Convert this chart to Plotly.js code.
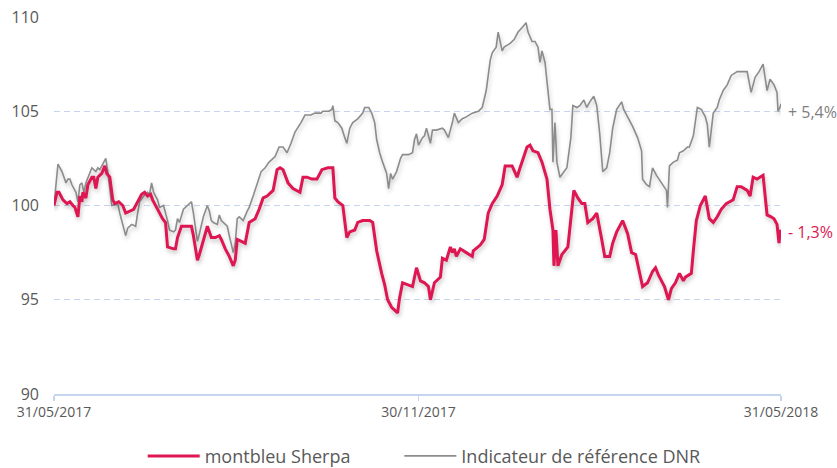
<!DOCTYPE html>
<html>
<head>
<meta charset="utf-8">
<script src="https://cdn.plot.ly/plotly-3.0.1.min.js"></script>
<style>
  html, body { margin: 0; padding: 0; background: #ffffff; }
  #chart { width: 837px; height: 468px; }
</style>
</head>
<body>
<div id="chart"></div>
<script>
// Days since 31/05/2017 and index values (base 100)
const tickDays = [0, 183, 365];
const tickLabels = ["31/05/2017", "30/11/2017", "31/05/2018"];
const seriesNames = ["montbleu Sherpa", "Indicateur de référence DNR"];

const dnrDays = [
  0,2,4,6,7,8,9,11,12,13,
  14,15,16,17,19,21,22,23,25,26,
  27,29,32,33,36,37,39,41,42,43,
  45,47,48,49,50,52,53,55,57,58,
  60,61,62,63,65,66,67,69,70,72,
  73,75,77,78,79,80,82,83,84,87,
  88,90,91,92,93,95,97,98,100,102,
  104,106,108,111,113,115,117,119,121,124,
  126,129,131,134,135,138,139.5,140,141,142.5,
  144.5,146,147,148.5,150,152.5,155,156,158,159.5,
  161,162,163.5,165,167,168,169,170,172,174,
  175,178,180,181,182,183,185,186,187,189,
  190,192,195,196,198,200,201,203,205,207,
  210,213,215,217,219,220,222,223,224,225,
  226,229,231,233,235.5,237,238,240,241.5,243,
  244,245,246.5,248,249,250,250.5,251.5,252.5,254,
  255.5,257.5,259.5,260.5,262.5,264,266,267.5,269,271,
  272.5,274,275.5,277.5,279,280.5,282.5,285,286,288,
  290.5,293,295,295.5,297.5,299,300.5,302.5,305,307.5,
  308,309,311,313,314,316,318,319,321,323,
  325,327,328,329,331,333,334,336,338,340,
  343,346,348,350,352,354,356,358,359.5,361.5,
  363,363.5,364.5,365
];
const dnrValues = [
  100.0,102.2,101.8,101.2,101.4,101.4,101.1,100.7,100.2,101.1,
  101.2,100.7,101.2,101.5,102.0,101.8,102.0,101.9,102.3,102.5,
  101.8,100.0,100.1,99.6,98.4,98.8,99.0,98.9,99.6,100.2,
  100.5,100.7,100.6,101.2,100.7,100.3,99.9,100.0,99.2,98.7,
  98.6,98.7,99.3,99.1,99.8,99.9,100.0,100.2,99.6,98.1,
  98.5,99.4,100.0,99.7,99.2,99.1,99.0,99.5,99.2,98.9,
  98.4,97.5,98.0,99.3,99.4,99.2,99.7,99.9,100.5,101.2,
  101.8,102.0,102.3,102.6,103.1,103.1,102.8,103.3,103.9,104.4,
  104.8,104.8,104.9,104.9,105.0,105.0,105.1,105.3,104.5,104.4,
  104.1,103.6,103.3,104.1,104.4,104.6,104.9,105.2,105.2,104.9,
  104.4,103.5,102.8,102.3,101.7,100.9,101.7,101.4,101.8,102.5,
  102.7,102.7,102.8,103.5,103.8,103.2,103.6,103.7,104.1,103.3,
  104.0,104.0,104.1,104.0,103.6,104.4,104.9,104.4,104.6,104.7,
  104.9,105.0,105.2,106.1,107.7,108.1,108.4,109.2,108.6,108.2,
  108.4,108.6,108.8,109.2,109.5,109.7,109.2,108.7,108.7,108.4,
  107.6,108.2,107.6,106.1,105.1,105.1,102.3,104.4,102.3,101.5,
  101.7,102.0,103.6,105.3,105.2,105.3,105.6,105.2,105.5,105.8,
  105.3,103.8,101.8,102.0,102.8,104.1,105.1,105.5,105.1,104.7,
  104.2,103.6,102.9,101.4,101.1,101.0,102.0,101.6,101.2,100.8,
  99.9,102.1,102.3,102.4,102.8,102.9,103.1,103.1,103.7,105.2,
  105.1,104.7,104.3,103.1,104.9,105.2,105.6,106.1,106.4,106.9,
  107.1,107.1,107.1,106.0,106.8,107.1,107.5,106.1,106.7,106.4,
  106.0,105.0,105.2,105.4
];

const sherpaDays = [
  0,1.5,2.5,4.5,6.5,8,9.5,10.5,12,13,
  14,14.5,16,17,19,20,21,22,24,25.5,
  26.5,28,29.5,30.5,32.5,34.5,36,38,40,41.5,
  44,45.5,47,48.5,49.5,51.5,53,54.5,56,57,
  60,61,62,64,67,69,70,72,73,75,
  77,79,81,83,84,86,88,90,91,92,
  96,98,101,103,105,107,110,112,113.5,115,
  117.5,120,123.5,125,127,129.5,132,134.5,137.5,140,
  141,142.5,145,147,148.5,151,152.5,155,158.5,160,
  162,164.5,166,167.5,169.5,172.5,173.5,175,177.5,180,
  182,184,186,188,189,191,194,195,197,199,
  200,201,202,204,207,210,210.5,214,216,218,
  220,222.5,225,226.5,230,232.5,234,237.5,239,240.5,
  243,245,247.5,249,250.5,251,252,253,255,256.5,
  258,260,261,263,265,266.5,268,270.5,272.5,275,
  276.5,279,280.5,282.5,285.5,288,290,292,293.5,295.5,
  298,300.5,302,303.5,306.5,308.5,310,312,314,316,
  317,320,321,322.5,324.5,327,329,331,333,335,
  337.5,341,343,345,348,349.5,351,353,356,358,
  360,361.5,363,364,364.5,365
];
const sherpaValues = [
  100.0,100.7,100.7,100.3,100.1,100.2,100.0,99.9,99.4,100.5,
  100.2,100.7,100.4,101.1,101.5,101.5,100.9,101.5,101.7,102.1,
  101.7,101.5,100.3,100.1,100.2,100.0,99.6,99.7,99.8,100.1,
  100.6,100.7,100.5,100.6,100.3,99.9,99.6,99.3,99.1,97.8,
  97.7,97.7,98.3,98.9,98.9,98.9,98.4,97.1,97.4,98.2,
  98.9,98.3,98.3,98.4,98.2,97.7,97.3,96.8,97.1,98.2,
  98.0,99.1,99.3,99.8,100.4,100.5,100.8,101.9,102.0,101.9,
  101.2,100.9,100.7,101.5,101.5,101.4,101.4,101.9,102.0,102.0,
  100.4,100.2,100.0,98.3,98.6,98.7,99.1,99.2,99.2,99.1,
  97.6,96.4,95.8,95.0,94.6,94.3,95.1,95.9,95.8,95.7,
  96.7,96.0,95.9,95.7,95.0,95.9,96.2,97.2,97.1,97.8,
  97.5,97.7,97.3,97.7,97.5,97.3,97.6,97.9,98.2,99.6,
  100.1,100.5,101.1,102.1,102.1,101.5,102.0,103.1,103.2,102.9,
  102.8,102.3,101.4,99.8,98.7,96.8,98.7,96.8,97.4,97.6,
  97.8,99.8,100.8,100.4,100.1,100.1,99.1,99.3,99.6,98.2,
  97.3,97.3,98.0,98.6,99.2,98.5,97.5,97.4,96.7,95.7,
  95.9,96.5,96.7,96.3,95.7,95.0,95.6,95.9,96.4,96.0,
  96.2,96.4,97.6,99.2,100.0,100.5,99.3,99.1,99.4,99.8,
  100.1,100.3,101.0,101.0,100.8,100.5,101.5,101.4,101.6,99.5,
  99.4,99.3,99.0,98.0,98.6,98.7
];

const RED = '#de1651';
const GREY = '#8c8c8c';
const TXT = '#595959';
const FONT = '"Open Sans", "Noto Sans", sans-serif';

function perfLabel(values) {
  const p = values[values.length - 1] - 100;
  return (p >= 0 ? '+ ' : '- ') + Math.abs(p).toFixed(1).replace('.', ',') + '%';
}

const traces = [
  {
    x: dnrDays, y: dnrValues, name: seriesNames[1], type: 'scatter', mode: 'lines',
    line: { color: GREY, width: 1.6 }, legend: 'legend2', hoverinfo: 'skip'
  },
  {
    x: sherpaDays, y: sherpaValues, name: seriesNames[0], type: 'scatter', mode: 'lines',
    line: { color: RED, width: 3 }, legend: 'legend', hoverinfo: 'skip'
  }
];

const legendBase = {
  orientation: 'h', xanchor: 'left', y: -0.165, yanchor: 'middle', itemwidth: 52,
  font: { family: FONT, size: 18, color: TXT }, bgcolor: 'rgba(0,0,0,0)'
};

const layout = {
  width: 837, height: 468,
  margin: { l: 54, r: 56, t: 17, b: 74, autoexpand: false },
  paper_bgcolor: '#ffffff', plot_bgcolor: '#ffffff',
  font: { family: FONT, color: TXT },
  showlegend: true,
  legend: Object.assign({}, legendBase, { x: 0.122 }),
  legend2: Object.assign({}, legendBase, { x: 0.475 }),
  xaxis: {
    range: [0, 365], tickvals: tickDays, ticktext: tickLabels, automargin: false,
    showgrid: false, zeroline: false, showline: true, linecolor: '#c5d4ef', linewidth: 1.5,
    ticks: 'outside', ticklen: 5, tickcolor: '#c5d4ef', tickwidth: 1.5,
    tickfont: { family: FONT, size: 14, color: TXT }, fixedrange: true
  },
  yaxis: {
    range: [90, 110], tickvals: [90, 95, 100, 105, 110], automargin: false,
    showgrid: true, gridcolor: '#c5d4ef', gridwidth: 1, griddash: '6px,4px',
    zeroline: false, showline: false, ticks: '', ticklabelstandoff: 14,
    tickfont: { family: FONT, size: 16, color: TXT }, fixedrange: true
  },
  annotations: [
    {
      x: 365, y: dnrValues[dnrValues.length - 1], xref: 'x', yref: 'y',
      text: perfLabel(dnrValues), showarrow: false, xanchor: 'left', yanchor: 'middle',
      xshift: 5, yshift: -8, font: { family: FONT, size: 16, color: '#7f7f7f' }
    },
    {
      x: 365, y: sherpaValues[sherpaValues.length - 1], xref: 'x', yref: 'y',
      text: perfLabel(sherpaValues), showarrow: false, xanchor: 'left', yanchor: 'middle',
      xshift: 5, yshift: -2, font: { family: FONT, size: 16, color: RED }
    }
  ]
};

Plotly.newPlot('chart', traces, layout, { staticPlot: true, displayModeBar: false }).then(function () {
  document.querySelectorAll('.scatterlayer .trace path.js-line').forEach(function (p) {
    p.style.filter = 'drop-shadow(1px 3px 2px rgba(0,0,0,0.22))';
  });
});
</script>
</body>
</html>
